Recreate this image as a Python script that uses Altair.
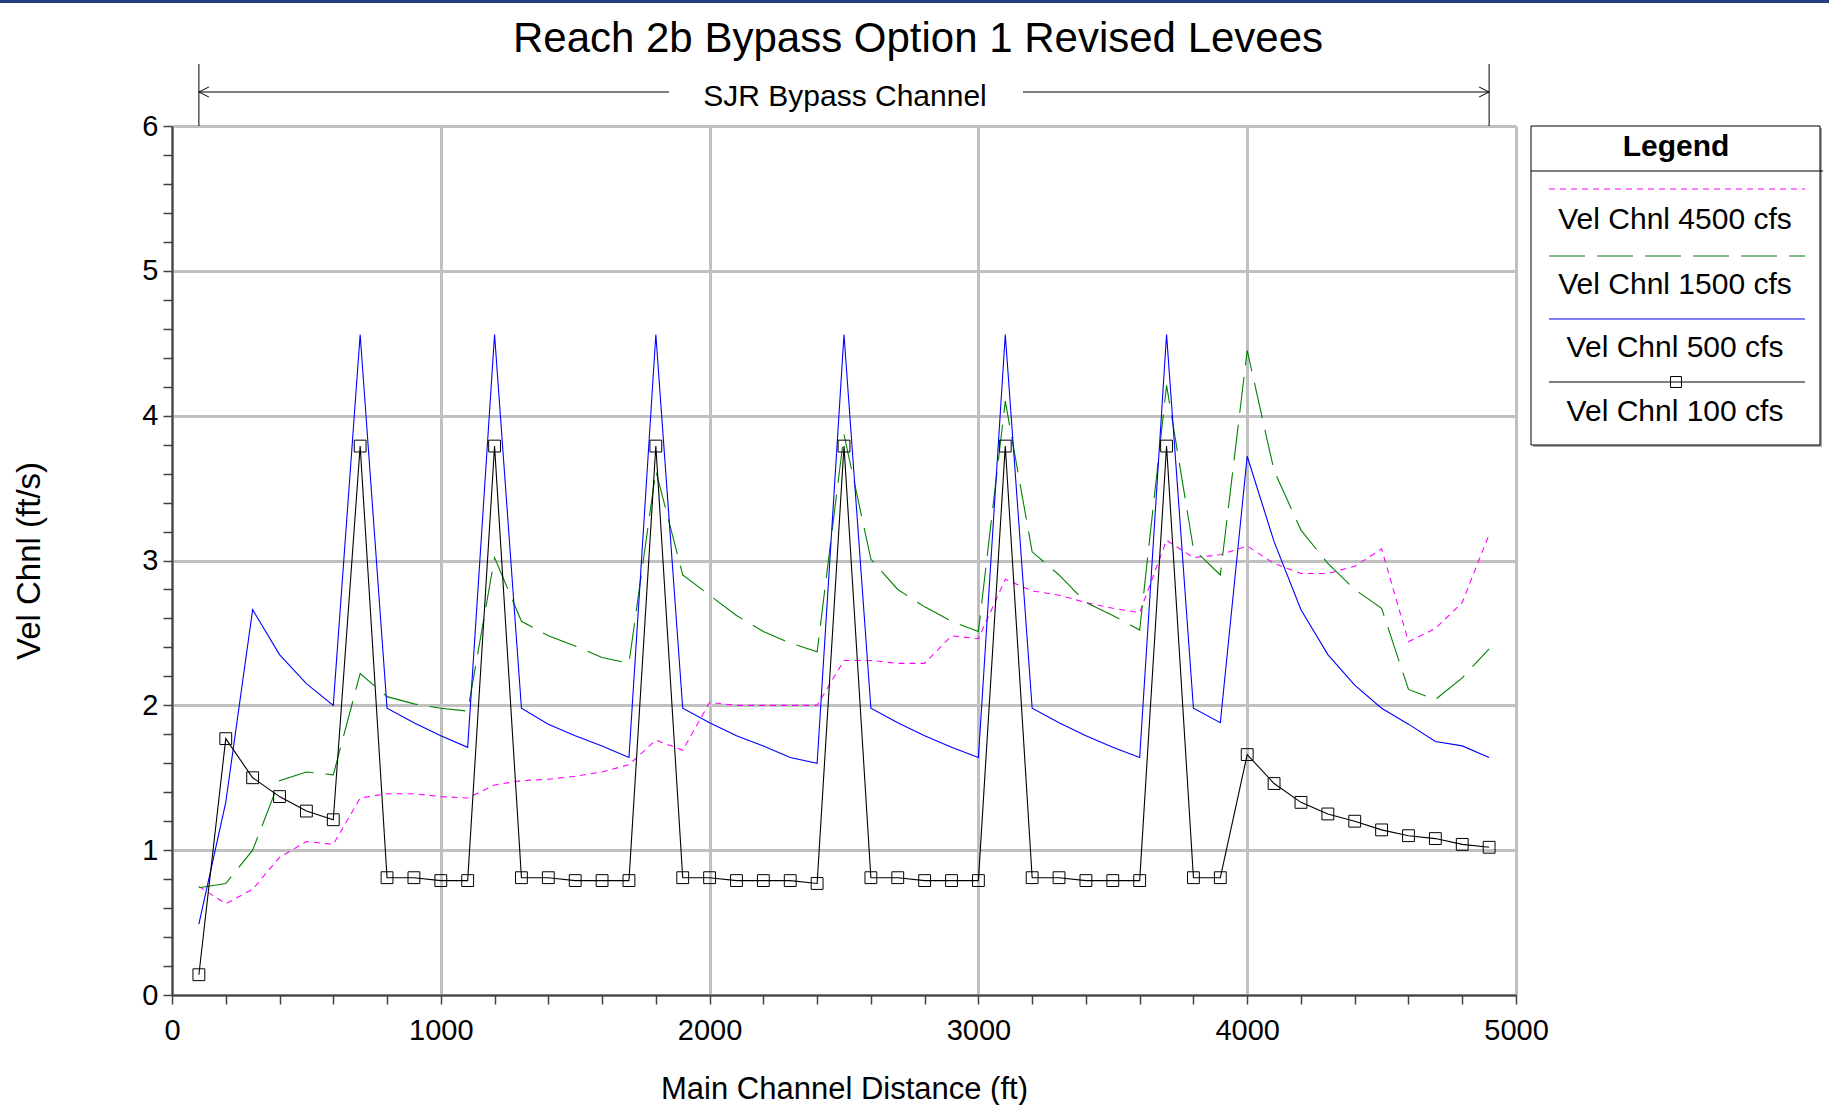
import altair as alt
import pandas as pd

# ---------------- data ----------------
distance = list(range(100, 5000, 100))

vel_4500 = [0.75, 0.63, 0.73, 0.95, 1.06, 1.04, 1.36, 1.39, 1.39, 1.37,
            1.36, 1.45, 1.48, 1.49, 1.51, 1.54, 1.59, 1.76, 1.69, 2.02,
            2.00, 2.00, 2.00, 2.00, 2.31, 2.31, 2.29, 2.29, 2.48, 2.46,
            2.87, 2.79, 2.76, 2.71, 2.67, 2.64, 3.14, 3.02, 3.04, 3.10,
            2.98, 2.91, 2.91, 2.96, 3.08, 2.44, 2.53, 2.71, 3.18]

vel_1500 = [0.74, 0.77, 1.00, 1.48, 1.54, 1.52, 2.22, 2.06, 2.01, 1.98,
            1.96, 3.02, 2.58, 2.48, 2.41, 2.33, 2.29, 3.62, 2.90, 2.76,
            2.62, 2.51, 2.43, 2.37, 3.87, 3.01, 2.80, 2.68, 2.58, 2.51,
            4.10, 3.06, 2.90, 2.71, 2.62, 2.52, 4.21, 3.08, 2.90, 4.45,
            3.62, 3.21, 2.98, 2.80, 2.67, 2.11, 2.04, 2.19, 2.39]

vel_500 = [0.49, 1.33, 2.66, 2.35, 2.15, 2.00, 4.56, 1.98, 1.88, 1.79,
           1.71, 4.56, 1.98, 1.87, 1.79, 1.72, 1.64, 4.56, 1.98, 1.88,
           1.79, 1.72, 1.64, 1.60, 4.56, 1.98, 1.88, 1.79, 1.71, 1.64,
           4.56, 1.98, 1.88, 1.79, 1.71, 1.64, 4.56, 1.98, 1.88, 3.72,
           3.13, 2.66, 2.35, 2.14, 1.98, 1.87, 1.75, 1.72, 1.64]

vel_100 = [0.14, 1.77, 1.50, 1.37, 1.27, 1.21, 3.79, 0.81, 0.81, 0.79,
           0.79, 3.79, 0.81, 0.81, 0.79, 0.79, 0.79, 3.79, 0.81, 0.81,
           0.79, 0.79, 0.79, 0.77, 3.79, 0.81, 0.81, 0.79, 0.79, 0.79,
           3.79, 0.81, 0.81, 0.79, 0.79, 0.79, 3.79, 0.81, 0.81, 1.66,
           1.46, 1.33, 1.25, 1.20, 1.14, 1.10, 1.08, 1.04, 1.02]

series_names = ["Vel Chnl 4500 cfs", "Vel Chnl 1500 cfs", "Vel Chnl 500 cfs", "Vel Chnl 100 cfs"]
series_values = [vel_4500, vel_1500, vel_500, vel_100]
series_colors = ["#ff00ff", "#008000", "#0000ff", "#000000"]
series_dashes = [[6, 5], [36, 12], None, None]

bypass_extent = [100, 4900]
bypass_label = "SJR Bypass Channel"
chart_title = "Reach 2b Bypass Option 1 Revised Levees"
x_title = "Main Channel Distance (ft)"
y_title = "Vel Chnl (ft/s)"
legend_title = "Legend"

# ---------------- layout ----------------
W, H = 1344, 869
PAD_L, PAD_T = 172, 126
FONT = "Liberation Sans"

rows = []
for name, vals in zip(series_names, series_values):
    for d, v in zip(distance, vals):
        rows.append({"series": name, "distance": d, "vel": v})
df = pd.DataFrame(rows)

x_scale = alt.Scale(domain=[0, 5000], nice=False, zero=False)
y_scale = alt.Scale(domain=[0, 6], nice=False, zero=False)

x_tick_vals = list(range(0, 5001, 200))
y_tick_vals = [round(i * 0.2, 1) for i in range(31)]

x_axis = alt.Axis(
    values=x_tick_vals, format="d",
    labelExpr="datum.value % 1000 === 0 ? datum.label : ''",
    labelFlush=False, labelOverlap=False, labelBound=False,
    labelFontSize=29, labelColor="black", labelPadding=12, labelFont=FONT,
    tickSize=9, tickColor="#404040", tickWidth=1.5,
    domainColor="#404040", domainWidth=2,
    grid=True, gridColor="#c0c0c0", gridWidth=3,
    gridOpacity={"condition": {"test": "datum.value % 1000 === 0", "value": 1}, "value": 0},
    title=x_title, titleFontSize=31, titleFontWeight="normal", titleColor="black", titleFont=FONT,
    titleY=103, titleBaseline="alphabetic", titleX=W / 2, titleAlign="center",
)
y_axis = alt.Axis(
    values=y_tick_vals,
    labelExpr="abs(datum.value - round(datum.value)) < 0.001 ? format(datum.value, 'd') : ''",
    labelOverlap=False, labelBound=False, labelFlush=False,
    labelFontSize=29, labelColor="black", labelPadding=5, labelFont=FONT,
    tickSize=9, tickColor="#404040", tickWidth=1.5,
    domainColor="#404040", domainWidth=2,
    grid=True, gridColor="#c0c0c0", gridWidth=3,
    gridOpacity={"condition": {"test": "abs(datum.value - round(datum.value)) < 0.001", "value": 1}, "value": 0},
    title=y_title, titleFontSize=33, titleFontWeight="normal", titleColor="black", titleFont=FONT,
    titleX=-133, titleY=H / 2, titleAngle=270, titleAlign="center", titleBaseline="alphabetic",
)

X = alt.X("distance:Q", scale=x_scale, axis=x_axis)
Y = alt.Y("vel:Q", scale=y_scale, axis=y_axis)

layers = []
base = alt.Chart(df)
for name, color, dash in zip(series_names, series_colors, series_dashes):
    kw = dict(color=color, strokeWidth=1.1)
    if dash is not None:
        kw["strokeDash"] = dash
    layers.append(base.transform_filter(alt.datum.series == name).mark_line(**kw).encode(x=X, y=Y))

layers.append(
    base.transform_filter(alt.datum.series == series_names[3])
    .mark_point(shape="square", filled=False, size=140, color="black", strokeWidth=1, opacity=1)
    .encode(x=X, y=Y)
)

# ---------------- annotations ----------------
one = pd.DataFrame({"k": [0]})

def txt(label, x, y, size, weight="normal", align="center"):
    return alt.Chart(pd.DataFrame({"label": [label]})).mark_text(
        font=FONT, fontSize=size, fontWeight=weight, align=align, baseline="middle", color="black"
    ).encode(x=alt.value(x), y=alt.value(y), text=alt.Text("label:N"))

# top navy bar
layers.append(alt.Chart(one).mark_rect(color="#23407f").encode(
    x=alt.value(-PAD_L), x2=alt.value(1833 - PAD_L), y=alt.value(-PAD_T), y2=alt.value(-PAD_T + 3)))

# title
layers.append(txt(chart_title, 746, -87, 42))

# bypass channel extent
bp = pd.DataFrame({"start": [bypass_extent[0]], "end": [bypass_extent[1]]})
bp_x = alt.X("start:Q", scale=x_scale, axis=x_axis)
layers.append(alt.Chart(bp).mark_rule(color="black", strokeWidth=1).encode(
    x=bp_x, x2="end:Q", y=alt.value(-34)))
ends = pd.DataFrame({"pos": bypass_extent})
layers.append(alt.Chart(ends).mark_rule(color="black", strokeWidth=1).encode(
    x=alt.X("pos:Q", scale=x_scale, axis=x_axis), y=alt.value(-62), y2=alt.value(0)))
layers.append(alt.Chart(pd.DataFrame({"pos": [bypass_extent[0]]})).mark_point(
    shape="M2,-1L0,0L2,1", size=100, filled=False, color="black", strokeWidth=1, opacity=1).encode(
    x=alt.X("pos:Q", scale=x_scale, axis=x_axis), y=alt.value(-34)))
layers.append(alt.Chart(pd.DataFrame({"pos": [bypass_extent[1]]})).mark_point(
    shape="M-2,-1L0,0L-2,1", size=100, filled=False, color="black", strokeWidth=1, opacity=1).encode(
    x=alt.X("pos:Q", scale=x_scale, axis=x_axis), y=alt.value(-34)))
layers.append(alt.Chart(one).mark_rect(color="white").encode(
    x=alt.value(497), x2=alt.value(851), y=alt.value(-48), y2=alt.value(-18)))
layers.append(txt(bypass_label, 673, -29, 30))

# ---------------- legend ----------------
LX0, LX1 = 1359, 1648
layers.append(alt.Chart(one).mark_rect(fill="#a8a8a8").encode(
    x=alt.value(LX0 + 2), x2=alt.value(LX1 + 2), y=alt.value(2), y2=alt.value(321)))
layers.append(alt.Chart(one).mark_rect(fill="white", stroke="black", strokeWidth=1).encode(
    x=alt.value(LX0), x2=alt.value(LX1), y=alt.value(0), y2=alt.value(319)))
layers.append(alt.Chart(one).mark_rule(color="black", strokeWidth=1).encode(
    x=alt.value(LX0), x2=alt.value(LX1 + 3), y=alt.value(45)))
layers.append(txt(legend_title, 1504, 21, 30, weight="bold"))

line_ys = [63, 130, 193, 256]
label_ys = [94, 159, 222, 286]
for name, color, dash, ly, ty in zip(series_names, series_colors, series_dashes, line_ys, label_ys):
    kw = dict(color=color, strokeWidth=1.2)
    if dash is not None:
        kw["strokeDash"] = dash
    layers.append(alt.Chart(one).mark_rule(**kw).encode(
        x=alt.value(1377), x2=alt.value(1633), y=alt.value(ly)))
    layers.append(txt(name, 1503, ty, 30))
layers.append(alt.Chart(one).mark_point(shape="square", filled=False, size=120, color="black",
                                        strokeWidth=1, opacity=1).encode(
    x=alt.value(1504), y=alt.value(line_ys[3])))

chart = alt.layer(*layers).properties(
    width=W, height=H,
    autosize=alt.AutoSizeParams(type="none"),
    padding={"left": PAD_L, "top": PAD_T, "right": 313, "bottom": 110},
    background="white",
).configure_view(strokeWidth=0).configure(font=FONT)

chart.save("out.html", embed_options={"renderer": "svg", "actions": False})
